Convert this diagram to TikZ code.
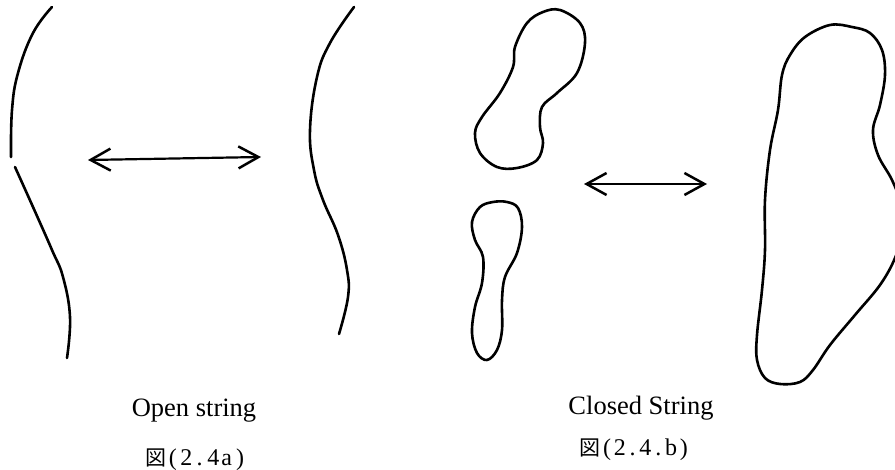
\documentclass[tikz,border=0pt]{standalone}
\usepackage{fontspec}
\setmainfont{Liberation Serif}
\newfontfamily\cjk{Noto Sans CJK JP}
\usetikzlibrary{arrows.meta}
\newcommand\fixw[2]{\makebox[#1][c]{#2}}
\begin{document}
\begin{tikzpicture}[x=1pt,y=-1pt,
  curve/.style={line width=2.6pt, line cap=round, line join=round},
  dbl/.style={line width=2.2pt, line cap=round,
    {Straight Barb[length=20pt,width=22pt,line width=2.5pt]}-{Straight Barb[length=20pt,width=22pt,line width=2.5pt]}},
  caption/.style={font=\fontsize{26.5}{30}\selectfont, inner sep=0pt},
  fig/.style={font=\fontsize{24}{28}\selectfont, inner sep=0pt}]
\useasboundingbox (0,0) rectangle (895,470);

% open string, broken in two pieces
\draw[curve] plot[smooth, tension=0.7] coordinates
  {(52,7) (33,33) (18,73) (12,110) (11,157)};
\draw[curve] plot[smooth, tension=0.7] coordinates
  {(15,167) (33,207) (52,250) (63,277) (70,317) (67,358)};

% joined open string
\draw[curve] plot[smooth, tension=0.7] coordinates
  {(354,7) (330,43) (317,77) (310,130) (314,170) (323,200) (338,235) (347,270) (348,297) (339,334)};

% two closed strings
\draw[curve] plot[smooth cycle, tension=0.6] coordinates
  {(560,10) (580,23) (585,43) (577,73) (557,93) (542,107) (540,127) (543,143)
   (537,160) (517,168) (497,167) (480,153) (475,133) (482,117) (500,93)
   (513,67) (515,47) (527,23) (543,12)};
\draw[curve] plot[smooth cycle, tension=0.6] coordinates
  {(507,202) (518,208) (522,227) (517,253) (505,277) (502,300) (502,330)
   (497,350) (487,360) (477,353) (472,333) (475,307) (482,283) (483,257)
   (475,240) (472,222) (480,207) (493,202)};

% merged closed string
\draw[curve] plot[smooth cycle, tension=0.6] coordinates
  {(830,25) (852,27) (870,33) (882,50) (885,75) (880,105) (873,130) (878,155)
   (892,180) (901,205) (902,232) (895,258) (880,285) (855,315) (830,345)
   (813,370) (800,382) (780,384) (765,378) (757,360) (757,335) (762,290)
   (765,250) (765,200) (770,150) (778,110) (782,75) (790,55) (805,37)};

% arrows
\coordinate (aL) at (88,160);
\coordinate (aR) at (261,157);
\coordinate (bL) at (584,184);
\coordinate (bR) at (707,184);
\draw[dbl] (aL) -- (aR);
\draw[dbl] (bL) -- (bR);

% captions
\node[caption, anchor=base] (open) at (194,417) {Open string};
\node[fig, anchor=base] (figa) at (196,465)
  {{\cjk\fontsize{21}{25}\selectfont 図}\fixw{13.5pt}{(}\fixw{13.5pt}{2}\fixw{13.5pt}{.}\fixw{13.5pt}{4}\fixw{13.5pt}{a}\fixw{13.5pt}{)}};
\node[caption, anchor=base] (closed) at (641,415) {Closed String};
\node[fig, anchor=base] (figb) at (635,456)
  {{\cjk\fontsize{21}{25}\selectfont 図}\fixw{12.8pt}{(}\fixw{12.8pt}{2}\fixw{12.8pt}{.}\fixw{12.8pt}{4}\fixw{12.8pt}{.}\fixw{12.8pt}{b}\fixw{12.8pt}{)}};
\end{tikzpicture}
\end{document}
